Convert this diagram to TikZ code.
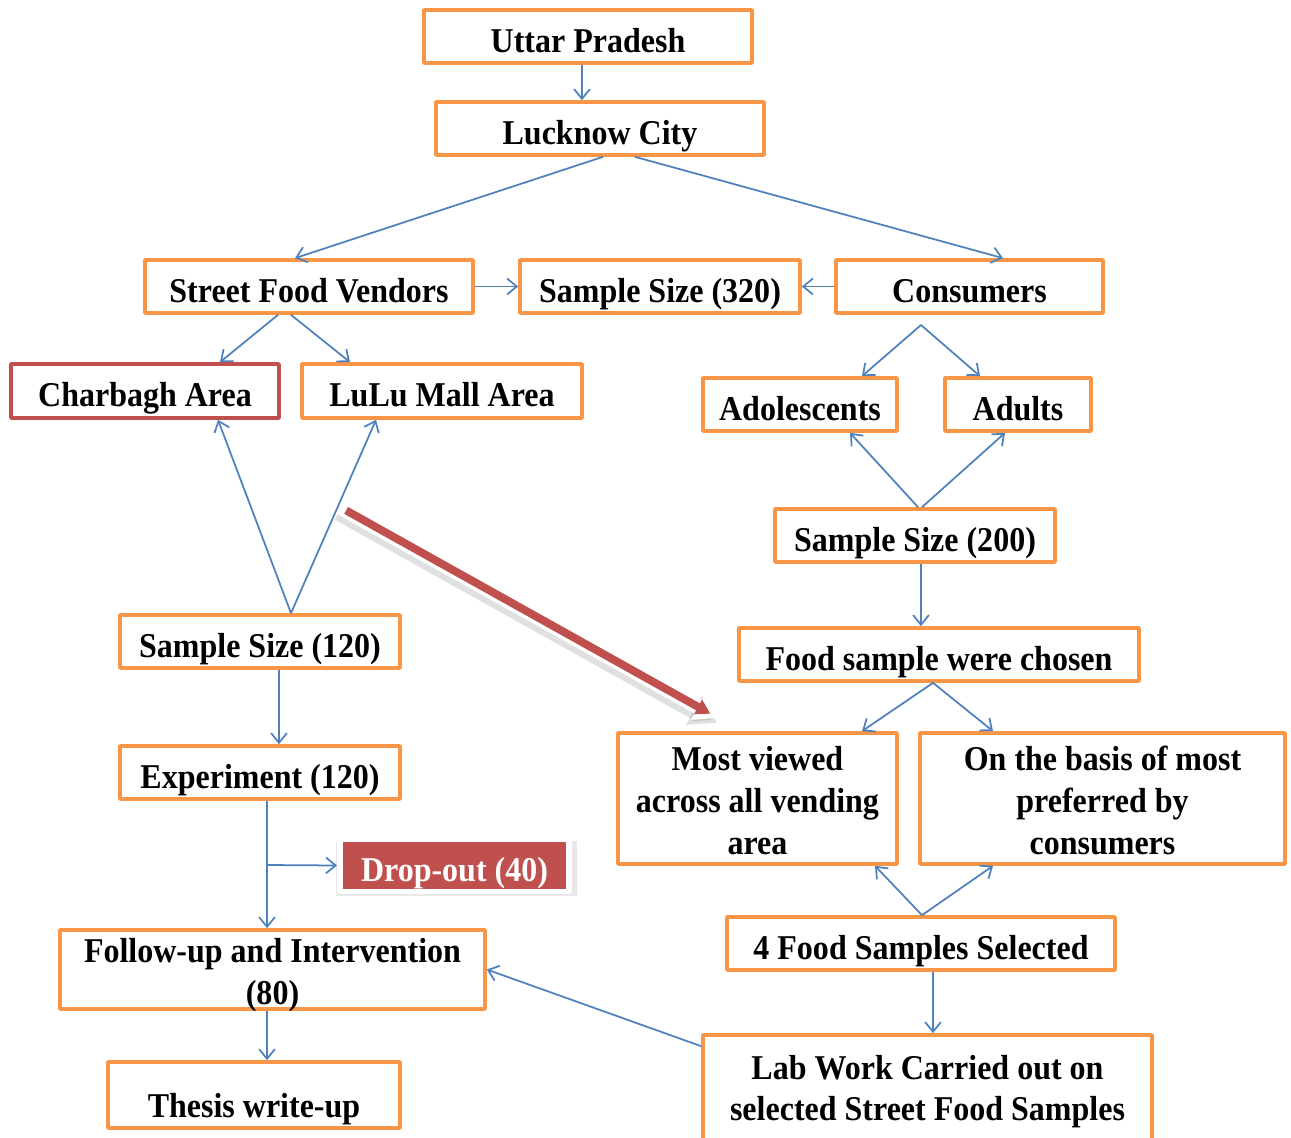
\documentclass[tikz,border=0pt]{standalone}
\usepackage{fontspec}
\setmainfont{Liberation Serif}[FakeStretch=0.92]
\usetikzlibrary{arrows.meta,calc,shadows}
\definecolor{boxorange}{RGB}{247,150,70}
\definecolor{arrblue}{RGB}{79,129,189}
\definecolor{dropred}{RGB}{192,80,77}
\begin{document}
\begin{tikzpicture}[x=0.02cm, y=-0.02cm, line join=round, >={Straight Barb[length=5.5pt,width=9pt]},
    font=\fontsize{19.8}{23.8}\selectfont\bfseries,
    box/.style={draw=boxorange, line width=2.1pt, fill=white, inner sep=2pt, text height=18pt, text depth=0pt},
    tallbox/.style={draw=boxorange, line width=2.1pt, fill=white, inner sep=2pt, align=center, text depth=0pt},
    link/.style={->, draw=arrblue, line width=1pt}]
    \useasboundingbox (0,0) rectangle (1291,1138);
    % left column
    \node[box, minimum width=6.56cm, minimum height=1.06cm] (up) at (588,36.5) {Uttar Pradesh};
    \node[box, minimum width=6.56cm, minimum height=1.06cm] (lc) at (600,128.5) {Lucknow City};
    \node[box, minimum width=6.56cm, minimum height=1.06cm] (sfv) at (309,286.5) {Street Food Vendors};
    \node[box, minimum width=5.6cm, minimum height=1.06cm] (ssa) at (660,286.5) {Sample Size (320)};
    \node[box, minimum width=5.34cm, minimum height=1.06cm] (con) at (969.5,286.5) {Consumers};
    \node[box, draw=dropred, minimum width=5.36cm, minimum height=1.08cm] (cha) at (145,391) {Charbagh Area};
    \node[box, minimum width=5.6cm, minimum height=1.08cm] (lulu) at (442,391) {LuLu Mall Area};
    \node[box, minimum width=5.6cm, minimum height=1.06cm] (ssb) at (260,641.5) {Sample Size (120)};
    \node[box, minimum width=5.6cm, minimum height=1.06cm] (exp) at (260,772.5) {Experiment (120)};
    \node[draw=white, fill=dropred, text=white, line width=3.4pt, text height=18pt, text depth=0pt,
        minimum width=4.58cm, minimum height=1.04cm,
        drop shadow={shadow xshift=1pt, shadow yshift=-1.5pt, shadow scale=1.05, opacity=0.18}] (drop) at (454.5,865.5) {Drop-out (40)};
    \node[tallbox, text height=40pt, minimum width=8.5cm, minimum height=1.58cm] (fu) at (272.5,969.5) {Follow-up and Intervention\\(80)};
    \node[box, text height=26pt, minimum width=5.84cm, minimum height=1.32cm] (th) at (254,1095) {Thesis write-up};
    % right column
    \node[box, minimum width=3.88cm, minimum height=1.06cm] (ado) at (800,404.5) {Adolescents};
    \node[box, minimum width=2.92cm, minimum height=1.06cm] (adu) at (1018,404.5) {Adults};
    \node[box, minimum width=5.6cm, minimum height=1.06cm] (ssc) at (915,535.5) {Sample Size (200)};
    \node[box, minimum width=8cm, minimum height=1.06cm] (fsc) at (939,654.5) {Food sample were chosen};
    \node[tallbox, text height=63.2pt, minimum width=5.58cm, minimum height=2.62cm] (mv) at (757.5,798.5) {Most viewed\\across all vending\\area};
    \node[tallbox, text height=63.5pt, minimum width=7.3cm, minimum height=2.62cm] (ob) at (1102.5,798.5) {On the basis of most\\preferred by\\consumers};
    \node[box, minimum width=7.76cm, minimum height=1.06cm] (fs4) at (921,943.5) {4 Food Samples Selected};
    \node[tallbox, text height=36.3pt, minimum width=8.98cm, minimum height=2.16cm] (lab) at (927.5,1089) {Lab Work Carried out on\\selected Street Food Samples};
    \coordinate (cs) at (921,325);
    \coordinate (br) at (267,865);
    \coordinate (rs) at (340,507);
    \coordinate (re) at (718,718);
    % connectors
    \draw[link] ($(up.south)+(-6,0)$) -- ($(lc.north)+(-18,0)$);
    \draw[link] ($(lc.south)+(3,0)$) -- ($(sfv.north)+(-14,0)$);
    \draw[link] ($(lc.south)+(35,0)$) -- ($(con.north)+(33.5,0)$);
    \draw[link] (sfv.east) -- (ssa.west);
    \draw[link] (con.west) -- (ssa.east);
    \draw[link] ($(sfv.south)+(-31,0)$) -- ($(cha.north)+(75,0)$);
    \draw[link] ($(sfv.south)+(-18,0)$) -- ($(lulu.north)+(-92,0)$);
    \draw[link] (cs) -- ($(ado.north)+(62,0)$);
    \draw[link] (cs) -- ($(adu.north)+(-38,0)$);
    \draw[link] ($(ssc.north)+(3,0)$) -- ($(ado.south)+(50,0)$);
    \draw[link] ($(ssc.north)+(7,0)$) -- ($(adu.south)+(-13,0)$);
    \draw[link] ($(ssc.south)+(6,0)$) -- ($(fsc.north)+(-18,0)$);
    \draw[link] ($(fsc.south)+(-6,0)$) -- ($(mv.north)+(104.5,0)$);
    \draw[link] ($(fsc.south)+(-6,0)$) -- ($(ob.north)+(-109.5,0)$);
    \draw[link] ($(fs4.north)+(1,0)$) -- ($(mv.south)+(117.5,0)$);
    \draw[link] ($(fs4.north)+(1,0)$) -- ($(ob.south)+(-109.5,0)$);
    \draw[link] ($(fs4.south)+(12,0)$) -- ($(lab.north)+(5.5,0)$);
    \draw[link] ($(lab.north west)+(0,13)$) -- (fu.east);
    \draw[link] ($(ssb.north)+(31,0)$) -- ($(cha.south)+(73,0)$);
    \draw[link] ($(ssb.north)+(31,0)$) -- ($(lulu.south)+(-66,0)$);
    \draw[link] ($(ssb.south)+(19,0)$) -- ($(exp.north)+(19,0)$);
    \draw[link] ($(exp.south)+(7,0)$) -- ($(fu.north)+(-5.5,0)$);
    \draw[link] (br) -- (drop.west);
    \draw[link] ($(fu.south)+(-5.5,0)$) -- ($(th.north)+(13,0)$);
    % red pointer
    \draw[black, opacity=0.12, line width=10pt, -{Triangle[length=15pt,width=18pt]}] ($(rs)+(-1,5)$) -- ($(re)+(-1,5)$);
    \draw[white, line width=8.5pt, -{Triangle[length=13pt,width=16pt]}] (rs) -- (re);
    \draw[dropred, line width=4.5pt, -{Triangle[length=8pt,width=9pt]}] ($(rs)!4pt!(re)$) -- ($(re)!5pt!(rs)$);
\end{tikzpicture}
\end{document}
